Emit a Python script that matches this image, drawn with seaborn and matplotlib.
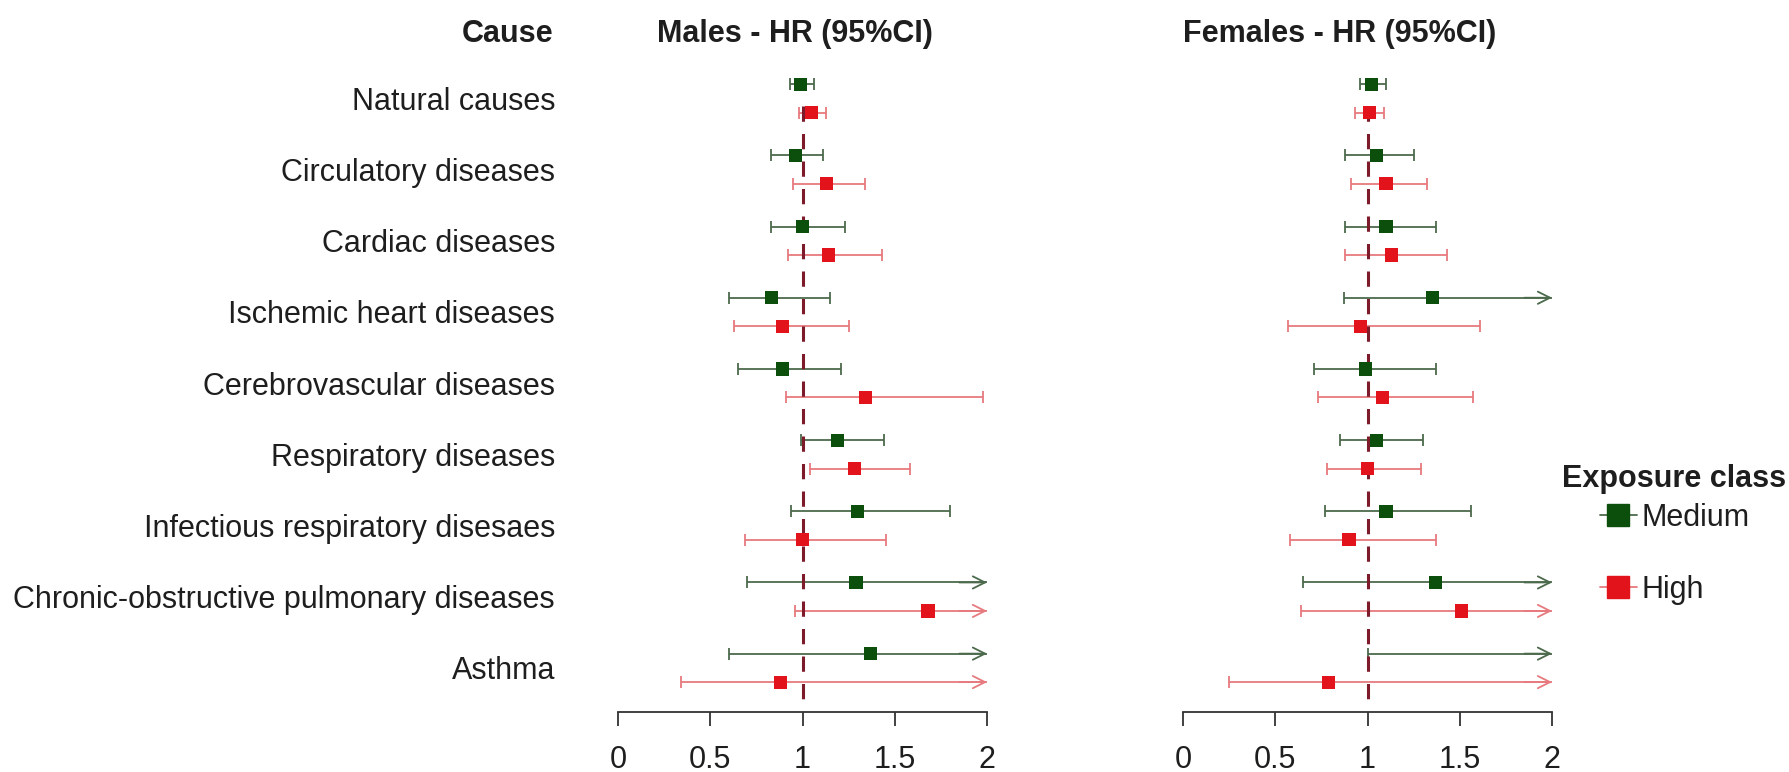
import matplotlib.pyplot as plt
import numpy as np
import pandas as pd
import seaborn as sns
from matplotlib.lines import Line2D

# ---- data (HR and 95% CI); np.inf = CI runs past the axis
causes = [
    "Natural causes",
    "Circulatory diseases",
    "Cardiac diseases",
    "Ischemic heart diseases",
    "Cerebrovascular diseases",
    "Respiratory diseases",
    "Infectious respiratory disesaes",
    "Chronic-obstructive pulmonary diseases",
    "Asthma",
]
exposures = ["Medium", "High"]

males_medium_hr = [0.99, 0.96, 1.00, 0.83, 0.89, 1.19, 1.30, 1.29, 1.37]
males_medium_lo = [0.93, 0.83, 0.83, 0.60, 0.65, 0.99, 0.94, 0.70, 0.60]
males_medium_hi = [1.06, 1.11, 1.23, 1.15, 1.21, 1.44, 1.80, np.inf, np.inf]

males_high_hr = [1.05, 1.13, 1.14, 0.89, 1.34, 1.28, 1.00, 1.68, 0.88]
males_high_lo = [0.98, 0.95, 0.92, 0.63, 0.91, 1.04, 0.69, 0.96, 0.34]
males_high_hi = [1.13, 1.34, 1.43, 1.25, 1.98, 1.58, 1.45, np.inf, np.inf]

females_medium_hr = [1.02, 1.05, 1.10, 1.35, 0.99, 1.05, 1.10, 1.37, np.nan]
females_medium_lo = [0.96, 0.88, 0.88, 0.87, 0.71, 0.85, 0.77, 0.65, 1.00]
females_medium_hi = [1.10, 1.25, 1.37, np.inf, 1.37, 1.30, 1.56, np.inf, np.inf]

females_high_hr = [1.01, 1.10, 1.13, 0.96, 1.08, 1.00, 0.90, 1.51, 0.79]
females_high_lo = [0.93, 0.91, 0.88, 0.57, 0.73, 0.78, 0.58, 0.64, 0.25]
females_high_hi = [1.09, 1.32, 1.43, 1.61, 1.57, 1.29, 1.37, np.inf, np.inf]

x_ticks = [0, 0.5, 1, 1.5, 2]
x_tick_labels = ["0", "0.5", "1", "1.5", "2"]
REF_HR = 1.0
XMAX = 2.0

POINT_COLORS = {"Medium": "#0c4f0c", "High": "#e3131c"}
LINE_COLORS = {"Medium": "#4c6a4c", "High": "#e67a7e"}
OFFSET = {"Medium": -0.2, "High": 0.2}


def build_frame(sex, hr_m, lo_m, hi_m, hr_h, lo_h, hi_h):
    parts = []
    for exp, hr, lo, hi in [("Medium", hr_m, lo_m, hi_m), ("High", hr_h, lo_h, hi_h)]:
        parts.append(pd.DataFrame({
            "sex": sex, "cause": causes, "exposure": exp,
            "hr": hr, "lo": lo, "hi": hi,
            "y": np.arange(len(causes)) + OFFSET[exp],
        }))
    return pd.concat(parts, ignore_index=True)


males = build_frame("Males", males_medium_hr, males_medium_lo, males_medium_hi,
                    males_high_hr, males_high_lo, males_high_hi)
females = build_frame("Females", females_medium_hr, females_medium_lo, females_medium_hi,
                      females_high_hr, females_high_lo, females_high_hi)

sns.set_style("white")
plt.rcParams["font.family"] = ["Liberation Sans", "DejaVu Sans"]
FS = 22
TXT = "#1e1e1e"

W, H = 1789, 772
fig = plt.figure(figsize=(W / 100, H / 100), dpi=100)

# axes geometry (pixels): x=0 at 618 / 1183, 184.5 px per unit
ax_m = fig.add_axes([599.5 / W, 60 / H, 406 / W, 652 / H])
ax_f = fig.add_axes([1164.5 / W, 60 / H, 406 / W, 652 / H])


def draw_panel(ax, d):
    for exp in exposures:
        sub = d[d["exposure"] == exp]
        col = LINE_COLORS[exp]
        ax.hlines(sub["y"], sub["lo"], sub["hi"].clip(upper=XMAX), color=col, lw=1.3, zorder=1)
        ax.plot(sub["lo"], sub["y"], ls="none", marker="|", ms=9, mew=1.3, color=col, zorder=1)
        closed = sub[sub["hi"] <= XMAX]
        ax.plot(closed["hi"], closed["y"], ls="none", marker="|", ms=9, mew=1.3, color=col, zorder=1)
        for y in sub.loc[sub["hi"] > XMAX, "y"]:
            ax.annotate("", xy=(XMAX, y), xytext=(XMAX - 0.15, y),
                        arrowprops=dict(arrowstyle="->", color=col, lw=1.3,
                                        mutation_scale=22, shrinkA=0, shrinkB=0),
                        annotation_clip=False, zorder=1)
    ax.vlines(REF_HR, 0.1, 8.55, color="#7d1b2b", lw=2.2,
              linestyles=(0, (5.0, 4.0)), zorder=2)
    sns.scatterplot(data=d.dropna(subset=["hr"]), x="hr", y="y", hue="exposure",
                    palette=POINT_COLORS, marker="s", s=90, linewidth=0,
                    legend=False, ax=ax, zorder=3)

    ax.set_xlim(-0.1, 2.1)
    ax.set_ylim(8.62, -0.54)
    for side in ["left", "top", "right"]:
        ax.spines[side].set_visible(False)
    ax.spines["bottom"].set_bounds(0, 2)
    ax.spines["bottom"].set_linewidth(1.3)
    ax.spines["bottom"].set_color("#333333")
    ax.set_xticks(x_ticks)
    ax.set_xticklabels(x_tick_labels)
    ax.tick_params(axis="x", bottom=True, direction="out", length=10, width=1.3,
                   color="#333333", labelsize=FS, labelcolor=TXT, pad=14)
    ax.set_xlabel("")
    ax.set_ylabel("")


draw_panel(ax_m, males)
draw_panel(ax_f, females)

ax_m.set_yticks(range(len(causes)))
ax_m.set_yticklabels(causes)
ax_m.tick_params(axis="y", left=False, length=0, pad=32, labelsize=FS, labelcolor=TXT)
ax_f.set_yticks([])

fig.text(553 / W, 1 - 34 / H, "Cause", ha="right", va="center",
         fontsize=FS, weight="bold", color=TXT)
fig.text(794.5 / W, 1 - 34 / H, "Males - HR (95%CI)", ha="center", va="center",
         fontsize=FS, weight="bold", color=TXT)
fig.text(1340 / W, 1 - 34 / H, "Females - HR (95%CI)", ha="center", va="center",
         fontsize=FS, weight="bold", color=TXT)

fig.text(1562 / W, 1 - 479 / H, "Exposure class", ha="left", va="center",
         fontsize=FS, weight="bold", color=TXT)
handles = [Line2D([], [], color=LINE_COLORS[e], lw=1.3, marker="s", markersize=16,
                  markerfacecolor=POINT_COLORS[e], markeredgecolor=POINT_COLORS[e])
           for e in exposures]
leg = fig.legend(handles, exposures, loc="center left",
                 bbox_to_anchor=(1600 / W, 1 - 554 / H), frameon=False,
                 handlelength=1.2, handletextpad=0.17, labelspacing=1.38,
                 fontsize=FS, borderpad=0, borderaxespad=0)
for t in leg.get_texts():
    t.set_color(TXT)

fig.savefig("out.png", dpi=100)
